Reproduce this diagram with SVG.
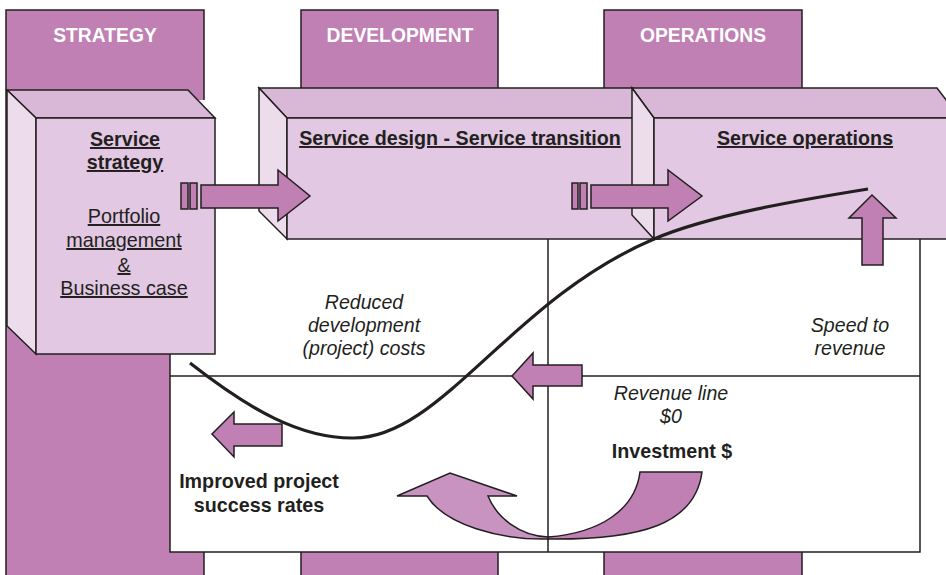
<svg xmlns="http://www.w3.org/2000/svg" width="946" height="575" viewBox="0 0 946 575">
<style>
.col{fill:#c080b3;stroke:#231f20;stroke-width:1.5}
.top{fill:#d9b7d7;stroke:#231f20;stroke-width:1.5;stroke-linejoin:miter}
.front{fill:#e2c8e2;stroke:#231f20;stroke-width:1.5}
.side{fill:#ecdcec;stroke:#231f20;stroke-width:1.5}
.arr{fill:#c080b3;stroke:#231f20;stroke-width:1.5;stroke-linejoin:miter}
.arrl{fill:#c893c0;stroke:#231f20;stroke-width:1.5}
.ln{fill:none;stroke:#231f20;stroke-width:1.5}
.hd{font-family:"Liberation Sans",Arial,sans-serif;font-weight:bold;font-size:19.3px;fill:#ffffff;text-anchor:middle}
.b{font-family:"Liberation Sans",Arial,sans-serif;font-weight:bold;font-size:19.7px;fill:#231f20;text-anchor:middle}
.n{font-family:"Liberation Sans",Arial,sans-serif;font-size:19.8px;fill:#231f20;text-anchor:middle}
.i{font-family:"Liberation Sans",Arial,sans-serif;font-style:italic;font-size:19.6px;fill:#231f20;text-anchor:middle}
.u{text-decoration:underline}
</style>
<rect width="946" height="575" fill="#ffffff"/>
<g id="columns">
<g id="col-strategy"><rect class="col" x="6" y="10" width="198" height="570"/><text class="hd" x="105" y="42">STRATEGY</text></g>
<g id="col-development"><rect class="col" x="301" y="10" width="197" height="570"/><text class="hd" x="400" y="42">DEVELOPMENT</text></g>
<g id="col-operations"><rect class="col" x="604" y="10" width="198" height="570"/><text class="hd" x="703" y="42">OPERATIONS</text></g>
</g>
<g id="chart-area">
<rect x="170" y="100" width="750" height="452" fill="#ffffff"/>
<polyline class="ln" points="170,340 170,552 920,552 920,230"/>
<line class="ln" x1="170" y1="376" x2="920" y2="376"/>
<line class="ln" x1="548" y1="239" x2="548" y2="552"/>
</g>
<g id="box-service-strategy">
<polygon class="top" points="7,90 188,90 215,118 36,118"/>
<polygon class="side" points="7,90 36,118 36,354 7,326"/>
<rect class="front" x="36" y="118" width="179" height="236"/>
<text class="b u" x="125" y="146">Service</text>
<text class="b u" x="125" y="169">strategy</text>
<text class="n u" x="124" y="223">Portfolio</text>
<text class="n u" x="124" y="247">management</text>
<text class="n u" x="124" y="272">&amp;</text>
<text class="n u" x="124" y="295">Business case</text>
</g>
<g id="box-service-design">
<polygon class="top" points="259,88 633,88 660,118 287,118"/>
<polygon class="side" points="259,88 287,118 287,239 259,211"/>
<rect class="front" x="287" y="118" width="373" height="121"/>
<text class="b u" x="460" y="145">Service design - Service transition</text>
</g>
<g id="box-service-operations">
<polygon class="top" points="632,88 937,88 960,118 654,118"/>
<polygon class="side" points="632,88 654,118 654,239 632,215"/>
<rect class="front" x="654" y="118" width="310" height="121"/>
<text class="b u" x="805" y="145">Service operations</text>
</g>
<g id="connectors">
<path class="ln" style="stroke-width:3.2;stroke-linecap:butt" d="M190,363 C250,410 300,438 352,438 C440,440 510,300 654,239 C710,215 800,200 868,189"/>
<g id="arrow-strategy-design">
<rect class="arr" x="181" y="183" width="7" height="26"/>
<rect class="arr" x="190" y="183" width="7" height="26"/>
<polygon class="arr" points="201,185 278,185 278,170 310,196 278,221 278,208 201,208"/>
</g>
<g id="arrow-design-operations">
<rect class="arr" x="572" y="183" width="6" height="26"/>
<rect class="arr" x="580" y="183" width="7" height="26"/>
<polygon class="arr" points="591,185 668,185 668,170 702,196 668,221 668,208 591,208"/>
</g>
<polygon id="arrow-speed" class="arr" points="862,265 862,218 849,218 872,195 896,218 883,218 883,265"/>
<polygon id="arrow-reduced" class="arr" points="582,365 533,365 533,353 512,376 533,399 533,386 582,386"/>
<polygon id="arrow-improved" class="arr" points="282,424 234,424 234,412 212,434 234,457 234,446 282,446"/>
<g id="arrow-investment">
<path class="arr" d="M548,537 C600,533 635,510 640,472 L702,472 C695,525 640,540 548,539 Z"/>
<path class="arrl" d="M548,537 C520,536 497,518 488,496 L517,496 L450,473 L397,496 L427,496 C445,525 500,540 548,539 Z"/>
</g>
</g>
<g id="labels">
<text class="i" x="364" y="309">Reduced</text>
<text class="i" x="364" y="332">development</text>
<text class="i" x="364" y="355">(project) costs</text>
<text class="i" x="850" y="332">Speed to</text>
<text class="i" x="850" y="355">revenue</text>
<text class="i" x="671" y="400">Revenue line</text>
<text class="i" x="671" y="423">$0</text>
<text class="b" x="672" y="458">Investment $</text>
<text class="b" x="259" y="488">Improved project</text>
<text class="b" x="259" y="512">success rates</text>
</g>
</svg>
